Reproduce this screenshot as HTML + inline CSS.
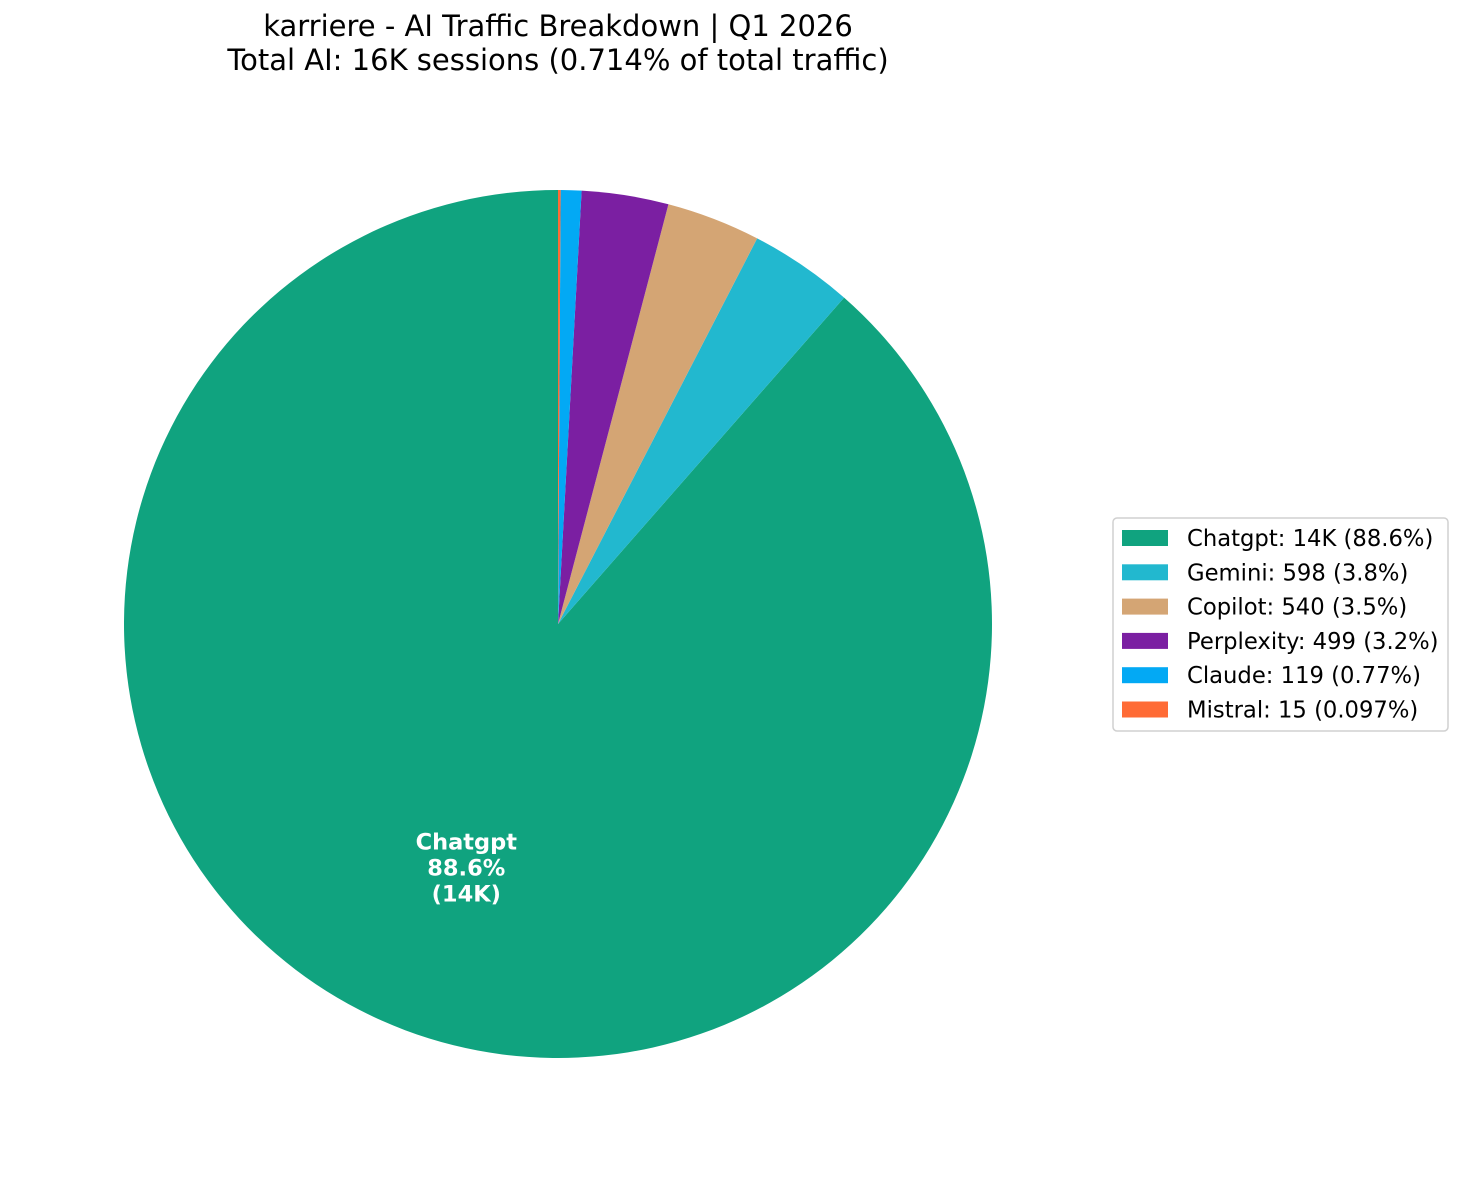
<!DOCTYPE html>
<html><head><meta charset="utf-8"><style>
body{margin:0;background:#fff;}
svg{display:block;font-family:"DejaVu Sans","Liberation Sans",sans-serif;}
</style></head><body>
<svg id="chart" width="1463" height="1183" viewBox="0 0 1463 1183">
<text x="558" y="36" text-anchor="middle" font-size="29" fill="#000">karriere - AI Traffic Breakdown | Q1 2026</text>
<text x="558" y="70" text-anchor="middle" font-size="29" fill="#000">Total AI: 16K sessions (0.714% of total traffic)</text>
<g id="slices"></g>
<g id="labels"></g>
<rect x="1113" y="518" width="335" height="213" rx="4" fill="#fff" stroke="#d0d0d0" stroke-width="1.5"/>
<g id="legend"></g>
</svg>
<script>
const categories = ["Chatgpt","Gemini","Copilot","Perplexity","Claude","Mistral"];
const values = [13689,598,540,499,119,15];
const valueLabels = ["14K","598","540","499","119","15"];
const pctLabels = ["88.6%","3.8%","3.5%","3.2%","0.77%","0.097%"];
const colors = ["#10a37f","#22b8cf","#d4a574","#7b1fa2","#03a9f4","#ff6b35"];
const NS="http://www.w3.org/2000/svg";
const cx=558, cy=624, r=434;
const total=values.reduce((a,b)=>a+b,0);
function pt(deg,rad){const a=deg*Math.PI/180;return [cx+rad*Math.cos(a), cy-rad*Math.sin(a)];}
let ang=90;
const gS=document.getElementById('slices'), gL=document.getElementById('labels'), gLeg=document.getElementById('legend');
values.forEach((v,i)=>{
  const sweep=v/total*360;
  const a0=ang, a1=ang+sweep;
  const p0=pt(a0,r), p1=pt(a1,r);
  const large=sweep>180?1:0;
  const path=document.createElementNS(NS,'path');
  path.setAttribute('d',`M${cx},${cy} L${p0[0]},${p0[1]} A${r},${r} 0 ${large} 0 ${p1[0]},${p1[1]} Z`);
  path.setAttribute('fill',colors[i]);
  
  
  gS.appendChild(path);
  if(v/total>0.05){
    const m=pt((a0+a1)/2,r*0.6);
    const t=document.createElementNS(NS,'text');
    t.setAttribute('text-anchor','middle');t.setAttribute('font-size','22.5');t.setAttribute('font-weight','bold');t.setAttribute('fill','#fff');
    [categories[i],pctLabels[i],'('+valueLabels[i]+')'].forEach((s,k)=>{
      const ts=document.createElementNS(NS,'tspan');ts.setAttribute('x',m[0]);ts.setAttribute('y',m[1]-18+k*26);ts.textContent=s;t.appendChild(ts);
    });
    
    
    gL.appendChild(t);
  }
  ang=a1;
  const y=538+i*34.3;
  const rc=document.createElementNS(NS,'rect');
  rc.setAttribute('x',1122);rc.setAttribute('y',y-8);rc.setAttribute('width',46);rc.setAttribute('height',16);rc.setAttribute('fill',colors[i]);
  
  
  gLeg.appendChild(rc);
  const tx=document.createElementNS(NS,'text');
  tx.setAttribute('x',1187);tx.setAttribute('y',y+8);tx.setAttribute('font-size','22.7');tx.setAttribute('fill','#000');
  tx.textContent=`${categories[i]}: ${valueLabels[i]} (${pctLabels[i]})`;
  
  
  gLeg.appendChild(tx);
});
</script>
</body></html>
